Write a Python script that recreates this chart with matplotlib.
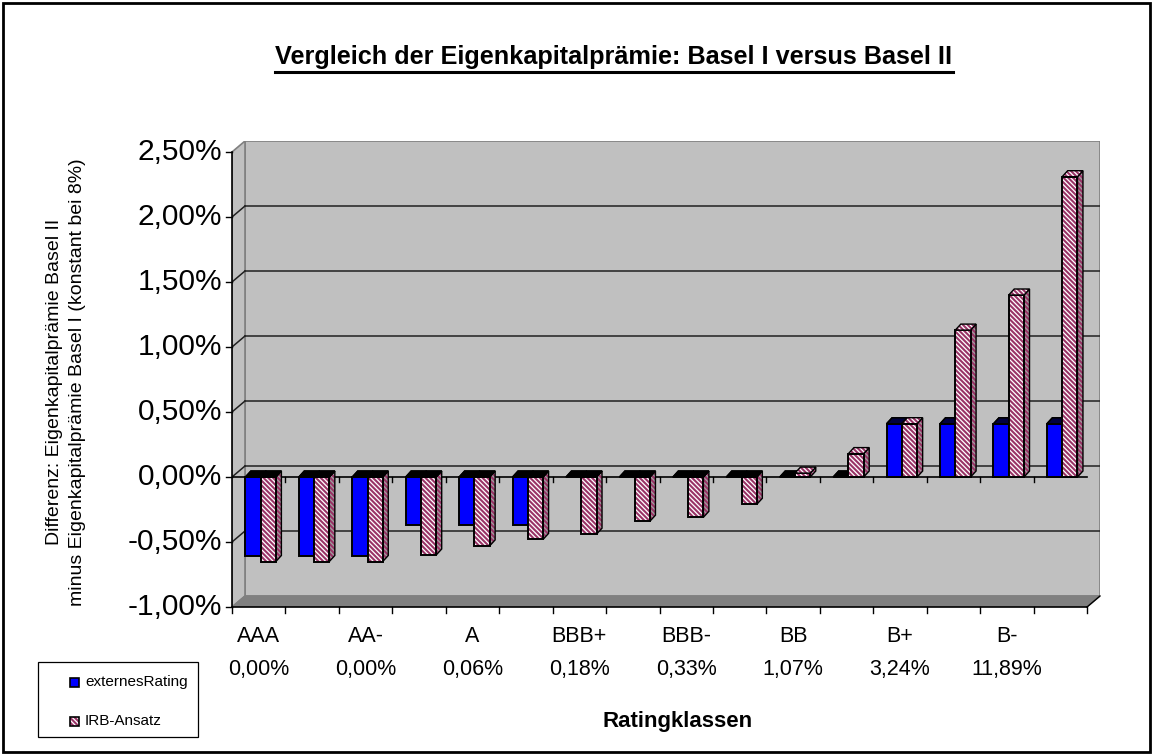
import matplotlib
matplotlib.use("Agg")
from matplotlib import pyplot as plt
from matplotlib.patches import Polygon, Rectangle
import numpy as np

plt.rcParams['font.family'] = ['Liberation Sans', 'DejaVu Sans']
plt.rcParams['hatch.linewidth'] = 1.5

# data (percent)
ratings = ['AAA', 'AA', 'AA-', 'A+', 'A', 'A-', 'BBB+', 'BBB', 'BBB-',
           'BB+', 'BB', 'BB-', 'B+', 'B', 'B-', 'CCC']
shown_ratings = ['AAA', 'AA-', 'A', 'BBB+', 'BBB-', 'BB', 'B+', 'B-']
shown_pd = ['0,00%', '0,00%', '0,06%', '0,18%', '0,33%', '1,07%', '3,24%', '11,89%']
externes = [-0.61, -0.61, -0.61, -0.37, -0.37, -0.37, 0.0, 0.0, 0.0,
            0.0, 0.0, 0.0, 0.41, 0.41, 0.41, 0.41]
irb = [-0.65, -0.65, -0.65, -0.60, -0.53, -0.48, -0.44, -0.34, -0.31,
       -0.21, 0.03, 0.18, 0.41, 1.13, 1.40, 2.31]
yticks = [-1.0, -0.5, 0.0, 0.5, 1.0, 1.5, 2.0, 2.5]
series = ['externesRating', 'IRB-Ansatz']

W, H = 1153, 755
fig = plt.figure(figsize=(W / 100, H / 100), dpi=100)

n = len(ratings)
PXX = 855 / n          # px per category
PXY = 130.0            # px per percent
DX, DY = 13 / PXX, 11 / PXY
ddx, ddy = 5.5 / PXX, 6 / PXY
ymin, ymax = -1.0, 2.5
HATCH = '\\' * 7
PINK = '#993366'

ax = fig.add_axes([232 / W, (H - 607) / H, (855 + 13) / W, (3.5 * PXY + 11) / H])
ax.set_xlim(0, n + DX)
ax.set_ylim(ymin, ymax + DY)
ax.axis('off')

# walls
ax.add_patch(Polygon([(DX, ymin + DY), (n + DX, ymin + DY), (n + DX, ymax + DY), (DX, ymax + DY)],
                     closed=True, facecolor='#C0C0C0', edgecolor='#808080', lw=1.2, zorder=1))
ax.add_patch(Polygon([(0, ymin), (DX, ymin + DY), (DX, ymax + DY), (0, ymax)],
                     closed=True, facecolor='#C0C0C0', edgecolor='#808080', lw=1.2, zorder=1))
ax.add_patch(Polygon([(0, ymin), (n, ymin), (n + DX, ymin + DY), (DX, ymin + DY)],
                     closed=True, facecolor='#808080', edgecolor='#808080', lw=1, zorder=1))
for yv in yticks[1:-1]:
    ax.plot([DX, n + DX], [yv + DY, yv + DY], color='#202020', lw=1.1, zorder=2)
    ax.plot([0, DX], [yv, yv + DY], color='#202020', lw=1.1, zorder=2)

# axes lines
ax.plot([0, 0], [ymin, ymax], color='black', lw=1.2, zorder=3, clip_on=False)
ax.plot([0, n], [ymin, ymin], color='black', lw=1.2, zorder=3, clip_on=False)
ax.plot([n, n + DX], [ymin, ymin + DY], color='black', lw=1.0, zorder=3, clip_on=False)
ax.plot([0, n], [0, 0], color='black', lw=1.2, zorder=3)
tl = 6 / PXY
for i in range(n + 1):
    ax.plot([i, i], [ymin, ymin - tl], color='black', lw=1, clip_on=False, zorder=3)
    if 0 < i < n:
        ax.plot([i, i], [0, -5 / PXY], color='black', lw=1, zorder=3)
for yv in yticks:
    ax.plot([0, -6 / PXX], [yv, yv], color='black', lw=1, clip_on=False, zorder=3)
    ax.text(-10 / PXX, yv, f'{yv:.2f}'.replace('.', ',') + '%', ha='right', va='center',
            fontsize=21.5, clip_on=False)


def bar3d(x0, w, v, front, top, side, hatch=None, hcol=None, z=5):
    lo, hi = min(0, v), max(0, v)
    ec = hcol if hatch else 'black'
    if v != 0:
        sp = [(x0 + w, lo), (x0 + w + ddx, lo + ddy), (x0 + w + ddx, hi + ddy), (x0 + w, hi)]
        ax.add_patch(Polygon(sp, closed=True, facecolor=side, edgecolor=ec, hatch=hatch, lw=0, zorder=z))
        ax.add_patch(Polygon(sp, closed=True, fill=False, edgecolor='black', lw=1, zorder=z))
        ax.add_patch(Rectangle((x0, lo), w, hi - lo, facecolor=front, edgecolor=ec,
                               hatch=hatch, lw=0, zorder=z))
        ax.add_patch(Rectangle((x0, lo), w, hi - lo, fill=False, edgecolor='black', lw=1.4, zorder=z))
    tp = [(x0, hi), (x0 + w, hi), (x0 + w + ddx, hi + ddy), (x0 + ddx, hi + ddy)]
    th = hatch if v > 0 else None
    ax.add_patch(Polygon(tp, closed=True, facecolor=top if v > 0 else 'black',
                         edgecolor=ec if th else 'black', hatch=th, lw=0 if th else 1, zorder=z))
    ax.add_patch(Polygon(tp, closed=True, fill=False, edgecolor='black', lw=1, zorder=z))


BW = 1 / 3.5
for i in range(n):
    x0 = i + 0.25
    bar3d(x0, BW, externes[i], '#0000FF', '#000040', '#000080', z=5)
    bar3d(x0 + BW, BW, irb[i], 'white', 'white', '#A0A0A0', hatch=HATCH, hcol=PINK, z=6)

# category labels (every other one)
for k, (r, p) in enumerate(zip(shown_ratings, shown_pd)):
    xc = 2 * k + 0.5
    ax.text(xc, (477 - 636) / PXY, r, ha='center', va='center', fontsize=15.5, clip_on=False)
    ax.text(xc, (477 - 670) / PXY, p, ha='center', va='center', fontsize=15.5, clip_on=False)

fig.text(678 / W, 1 - 721 / H, 'Ratingklassen', ha='center', va='center',
         fontsize=16, fontweight='bold')
fig.text(66 / W, 1 - 382 / H,
         'Differenz: Eigenkapitalprämie Basel II\nminus Eigenkapitalprämie Basel I (konstant bei 8%)',
         rotation=90, ha='center', va='center', multialignment='center', fontsize=14,
         linespacing=1.5)

title = fig.text(614 / W, 1 - 57 / H, 'Vergleich der Eigenkapitalprämie: Basel I versus Basel II',
                 ha='center', va='center', fontsize=18.2, fontweight='bold')
fig.canvas.draw()
bb = title.get_window_extent()
uy = H - 72
fig.add_artist(plt.Line2D([bb.x0 / W, bb.x1 / W], [uy / H, uy / H], color='black', lw=2.2))

# legend box drawn by hand
fig.add_artist(Rectangle((38 / W, 1 - 737 / H), 160 / W, 75 / H, transform=fig.transFigure,
                         fill=False, edgecolor='black', lw=0.9))
leg_y = [682, 721]
fig.add_artist(Rectangle((70 / W, 1 - (leg_y[0] + 4.5) / H), 9 / W, 9 / H, transform=fig.transFigure,
                         facecolor='#0000FF', edgecolor='black', lw=1.2))
fig.add_artist(Rectangle((70 / W, 1 - (leg_y[1] + 4.5) / H), 9 / W, 9 / H, transform=fig.transFigure,
                         facecolor='white', edgecolor=PINK, hatch=HATCH, lw=0))
fig.add_artist(Rectangle((70 / W, 1 - (leg_y[1] + 4.5) / H), 9 / W, 9 / H, transform=fig.transFigure,
                         fill=False, edgecolor='black', lw=1.2))
for yy, lab in zip(leg_y, series):
    fig.text(85 / W, 1 - yy / H, lab, ha='left', va='center', fontsize=11)

fig.add_artist(Rectangle((3 / W, 3 / H), (W - 6) / W, (H - 6) / H, transform=fig.transFigure,
                         fill=False, edgecolor='black', lw=2))

fig.savefig('out.png', dpi=100)
